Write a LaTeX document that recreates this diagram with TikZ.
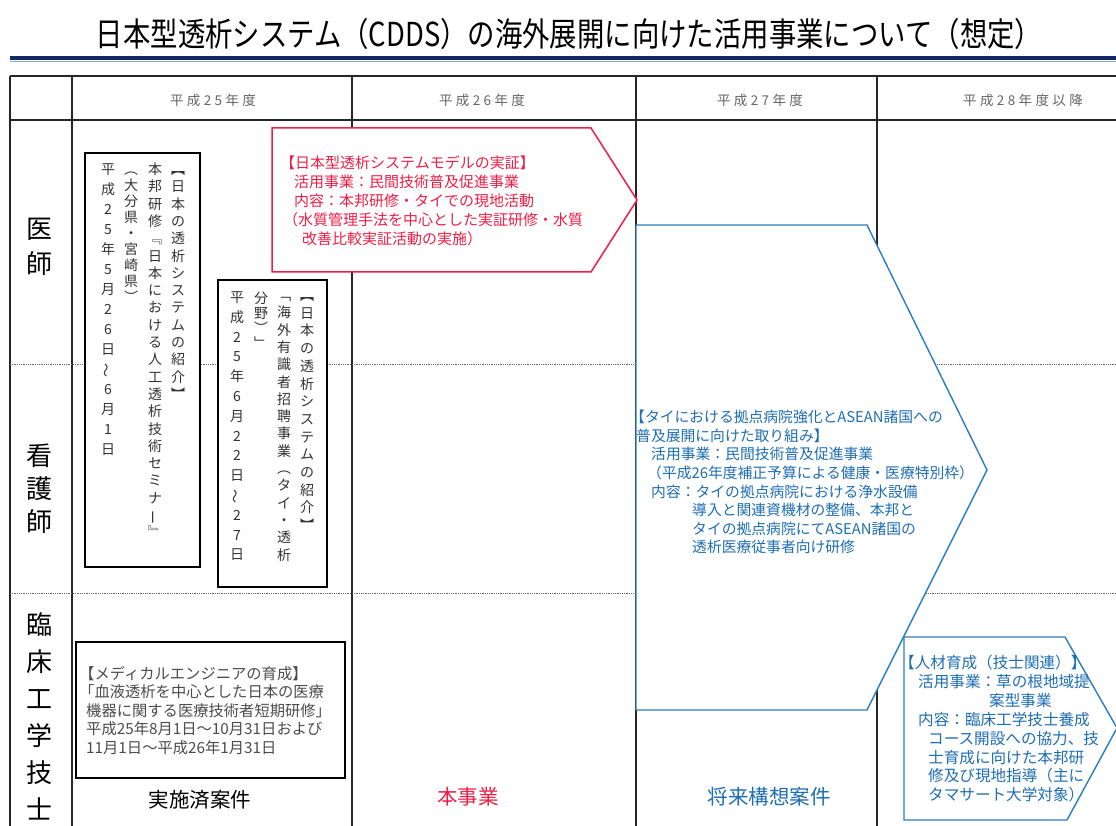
\documentclass[tikz,border=0pt]{standalone}
\usepackage{fontspec}
\usepackage{graphicx}
\newfontfamily\jp{Noto Sans CJK JP}
\newfontfamily\jphead{Noto Sans CJK JP}[LetterSpace=25]
\definecolor{myred}{RGB}{240,30,70}
\definecolor{bluetxt}{RGB}{30,110,180}
\definecolor{blueline}{RGB}{45,125,190}
\definecolor{navyrule}{RGB}{20,40,100}
\ExplSyntaxOn
\NewDocumentCommand\vcol{mm}{
  \vtop{\baselineskip=#1\relax\lineskip=0pt\lineskiplimit=-1000pt
    \tl_map_inline:nn {#2} {\hbox to 1em{\vrule height .88em depth .12em width 0pt\hss ##1\hss}}}}
\ExplSyntaxOff
\begin{document}
\begin{tikzpicture}[x=1pt,y=-1pt,
  gridline/.style={line width=1.3pt, black!85},
  dotline/.style={line width=0.8pt, black!60, densely dotted},
  vbox/.style={draw=black, line width=1.5pt, fill=white},
  vtxt/.style={inner sep=0pt, anchor=north, text=black!80, font=\jp\fontsize{14}{17}\selectfont},
  sidetxt/.style={inner sep=0pt, anchor=north, text=black, font=\jp\fontsize{26}{30}\selectfont},
  headtxt/.style={inner sep=0pt, text=black!60, font=\jphead\fontsize{13.5}{13.5}\selectfont},
  body/.style={inner sep=0pt, anchor=north west, align=left},
  redshape/.style={draw=myred, line width=1.5pt, fill=white},
  blueshape/.style={draw=blueline, line width=1.4pt, fill=white},
  foot/.style={inner sep=0pt, font=\jp\fontsize{20.5}{21}\selectfont}
]
\fill[white] (0,0) rectangle (1116,826);
\useasboundingbox (0,0) rectangle (1116,826);

% title and rule
\node[font=\jp\fontsize{33}{33}\selectfont, xscale=0.83, inner sep=0pt] (title) at (569,34) {日本型透析システム（CDDS）の海外展開に向けた活用事業について（想定）};
\draw[line width=4pt, navyrule] (10,58) -- (1116,58);
\draw[line width=1.5pt, blueline!60] (10,61.5) -- (1116,61.5);

% grid
\draw[gridline] (10,76) -- (1116,76);
\draw[gridline] (10,120) -- (1116,120);
\foreach \x in {10,72,352,636,877} \draw[gridline] (\x,76) -- (\x,826);
\draw[dotline] (10,364) -- (1116,364);
\draw[dotline] (10,593) -- (1116,593);

% headers
\node[headtxt] (h25) at (213,100) {平成25年度};
\node[headtxt] (h26) at (482,100) {平成26年度};
\node[headtxt] (h27) at (760,100) {平成27年度};
\node[headtxt] (h28) at (1023,100) {平成28年度以降};

% side labels
\node[sidetxt] (s1) at (40,215) {\vcol{35pt}{医師}};
\node[sidetxt] (s2) at (40,442) {\vcol{33pt}{看護師}};
\node[sidetxt] (s3) at (40,611) {\vcol{37pt}{臨床工学技士}};

% vertical box 1
\draw[vbox] (85,153) rectangle (200,567);
\node[vtxt] (b1c1) at (178,162) {\vcol{17.3pt}{︻日本の透析システムの紹介︼}};
\node[vtxt] (b1c2) at (155,162) {\vcol{17.3pt}{本邦研修﹃日本における人工透析技術セミナ{\rotatebox[origin=c]{90}{ー}}﹄}};
\node[vtxt] (b1c3) at (131,162) {\vcol{16pt}{︵大分県・宮崎県︶}};
\node[vtxt] (b1c4) at (108,162) {\vcol{20pt}{平成25年5月26日{\rotatebox[origin=c]{90}{～}}6月1日}};

% vertical box 2
\draw[vbox] (218,280) rectangle (327,587);
\node[vtxt] (b2c1) at (307,288) {\vcol{17.7pt}{︻日本の透析システムの紹介︼}};
\node[vtxt] (b2c2) at (284,288) {\vcol{17.3pt}{﹁海外有識者招聘事業︵タイ・透析}};
\node[vtxt] (b2c3) at (261,291) {\vcol{15pt}{分野︶﹂}};
\node[vtxt] (b2c4) at (237,290) {\vcol{19.8pt}{平成25年6月22日{\rotatebox[origin=c]{90}{～}}27日}};

% red shape
\draw[redshape] (272,128) -- (591,128) -- (637,200) -- (591,272) -- (272,272) -- cycle;
\node[body, text=myred, font=\jp\fontsize{15}{18.8}\selectfont] (rtxt) at (280,156) {%
【日本型透析システムモデルの実証】\\
\hspace*{14pt}活用事業：民間技術普及促進事業\\
\hspace*{14pt}内容：本邦研修・タイでの現地活動\\
\hspace*{3pt}（水質管理手法を中心とした実証研修・水質\\
\hspace*{22pt}改善比較実証活動の実施）};

% big blue shape
\draw[blueshape] (636,225) -- (867,225) -- (987,470) -- (867,710) -- (636,710) -- cycle;
\node[body, text=bluetxt, font=\jp\fontsize{14.8}{18.6}\selectfont] (btxt) at (630,410) {%
【タイにおける拠点病院強化とASEAN諸国への\\
\hspace*{6pt}普及展開に向けた取り組み】\\
\hspace*{21pt}活用事業：民間技術普及促進事業\\
\hspace*{17pt}（平成26年度補正予算による健康・医療特別枠）\\
\hspace*{21pt}内容：タイの拠点病院における浄水設備\\
\hspace*{62pt}導入と関連資機材の整備、本邦と\\
\hspace*{62pt}タイの拠点病院にてASEAN諸国の\\
\hspace*{62pt}透析医療従事者向け研修};

% small blue shape
\draw[blueshape] (904,637) -- (1065,637) -- (1117,728) -- (1067,820) -- (904,820) -- cycle;
\node[body, text=bluetxt, font=\jp\fontsize{15.6}{18.9}\selectfont] (stxt) at (899,655) {%
【人材育成（技士関連）】\\
\hspace*{19pt}活用事業：草の根地域提\\
\hspace*{90pt}案型事業\\
\hspace*{19pt}内容：臨床工学技士養成\\
\hspace*{29pt}コース開設への協力、技\\
\hspace*{29pt}士育成に向けた本邦研\\
\hspace*{29pt}修及び現地指導（主に\\
\hspace*{29pt}タマサート大学対象）};

% bottom-left box
\draw[vbox] (76,642) rectangle (345,778);
\node[body, text=black!70, font=\jp\fontsize{15.3}{18.5}\selectfont] (ltxt) at (79,666) {%
【メディカルエンジニアの育成】\\
「血液透析を中心とした日本の医療\\
\hspace*{7pt}機器に関する医療技術者短期研修」\\
\hspace*{7pt}平成25年8月1日～10月31日および\\
\hspace*{7pt}11月1日～平成26年1月31日};

% footer labels
\node[foot, text=black] (f1) at (200,800) {実施済案件};
\node[foot, text=myred] (f2) at (468,797) {本事業};
\node[foot, text=bluetxt] (f3) at (769,797) {将来構想案件};
\end{tikzpicture}
\end{document}
